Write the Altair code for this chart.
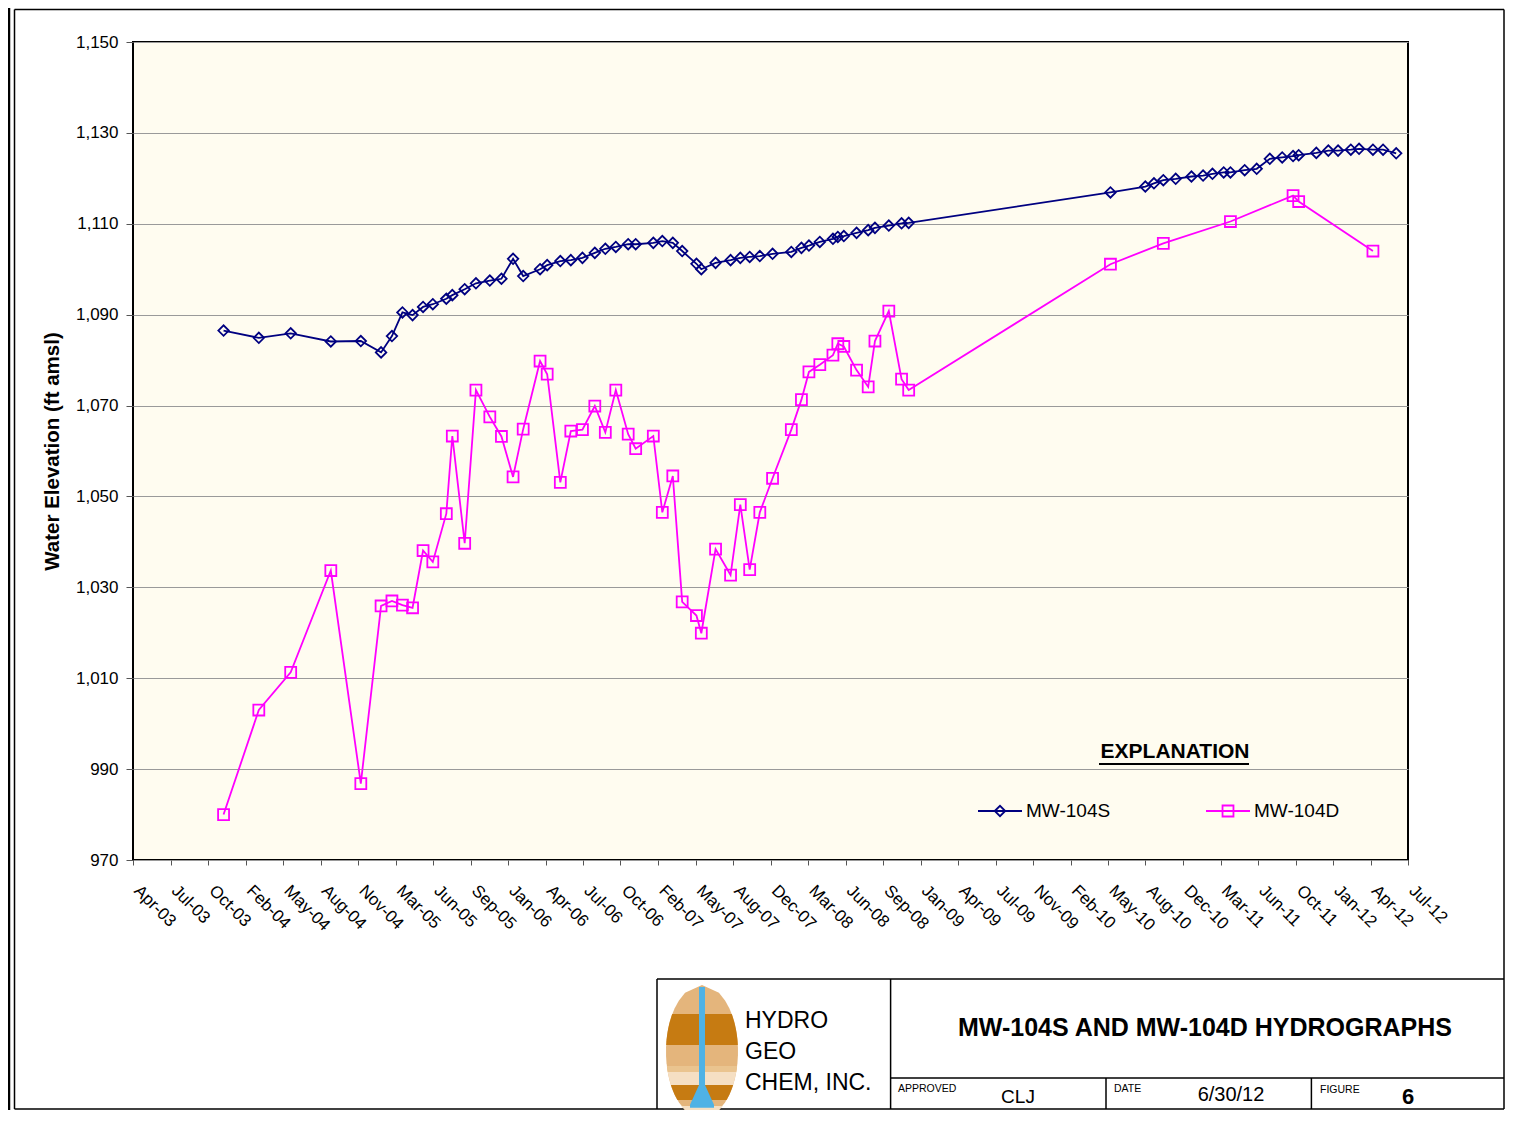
import altair as alt
import pandas as pd
import numpy as np

# ---------------- data ----------------
SERIES = ["MW-104S", "MW-104D"]
COLORS = ["#000080", "#FF00FF"]

DATES_S = ["2003-12-08", "2004-03-11", "2004-06-04", "2004-09-19", "2004-12-08", "2005-01-31",
           "2005-03-01", "2005-03-29", "2005-04-25", "2005-05-23", "2005-06-18", "2005-07-24",
           "2005-08-09", "2005-09-11", "2005-10-11", "2005-11-17", "2005-12-18", "2006-01-18",
           "2006-02-14", "2006-03-31", "2006-04-19", "2006-05-24", "2006-06-21", "2006-07-22",
           "2006-08-24", "2006-09-21", "2006-10-19", "2006-11-21", "2006-12-11", "2007-01-27",
           "2007-02-20", "2007-03-20", "2007-04-14", "2007-05-22", "2007-06-04", "2007-07-12",
           "2007-08-21", "2007-09-16", "2007-10-11", "2007-11-07", "2007-12-11", "2008-01-30",
           "2008-02-26", "2008-03-17", "2008-04-15", "2008-05-20", "2008-06-02", "2008-06-18",
           "2008-07-22", "2008-08-22", "2008-09-09", "2008-10-16", "2008-11-19", "2008-12-08",
           "2010-05-30", "2010-08-31", "2010-09-23", "2010-10-18", "2010-11-20", "2011-01-01",
           "2011-02-01", "2011-02-26", "2011-03-28", "2011-04-15", "2011-05-23", "2011-06-24",
           "2011-07-29", "2011-08-31", "2011-09-29", "2011-10-14", "2011-11-30", "2012-01-01",
           "2012-01-27", "2012-03-01", "2012-03-23", "2012-04-29", "2012-05-26", "2012-06-30"]
VALUES_S = [1086.5, 1084.9, 1085.9, 1084.1, 1084.2, 1081.7,
            1085.3, 1090.5, 1089.9, 1091.7, 1092.3, 1093.5,
            1094.3, 1095.6, 1096.9, 1097.5, 1097.9, 1102.3,
            1098.5, 1100.0, 1100.9, 1101.8, 1102.0, 1102.5,
            1103.6, 1104.5, 1104.9, 1105.5, 1105.5, 1105.8,
            1106.2, 1105.8, 1104.0, 1101.2, 1100.0, 1101.4,
            1102.0, 1102.5, 1102.7, 1102.9, 1103.4, 1103.8,
            1104.7, 1105.2, 1106.0, 1106.7, 1107.1, 1107.3,
            1108.0, 1108.6, 1109.1, 1109.6, 1110.1, 1110.2,
            1116.9, 1118.2, 1118.9, 1119.6, 1119.9, 1120.4,
            1120.6, 1121.0, 1121.3, 1121.3, 1121.8, 1122.1,
            1124.3, 1124.6, 1124.9, 1125.1, 1125.6, 1126.1,
            1126.1, 1126.3, 1126.5, 1126.3, 1126.3, 1125.5]

DATES_D = ["2003-12-08", "2004-03-11", "2004-06-04", "2004-09-19", "2004-12-08", "2005-01-31",
           "2005-03-01", "2005-03-29", "2005-04-25", "2005-05-23", "2005-06-18", "2005-07-24",
           "2005-08-09", "2005-09-11", "2005-10-11", "2005-11-17", "2005-12-18", "2006-01-18",
           "2006-02-14", "2006-03-31", "2006-04-19", "2006-05-24", "2006-06-21", "2006-07-22",
           "2006-08-24", "2006-09-21", "2006-10-19", "2006-11-21", "2006-12-11", "2007-01-27",
           "2007-02-20", "2007-03-20", "2007-04-14", "2007-05-22", "2007-06-04", "2007-07-12",
           "2007-08-21", "2007-09-16", "2007-10-11", "2007-11-07", "2007-12-11", "2008-01-30",
           "2008-02-26", "2008-03-17", "2008-04-15", "2008-05-20", "2008-06-02", "2008-06-18",
           "2008-07-22", "2008-08-22", "2008-09-09", "2008-10-16", "2008-11-19", "2008-12-08",
           "2010-05-30", "2010-10-18", "2011-04-15", "2011-09-29", "2011-10-14", "2012-04-29"]
VALUES_D = [980.0, 1003.0, 1011.3, 1033.7, 986.8, 1025.9,
            1027.0, 1026.1, 1025.5, 1038.1, 1035.6, 1046.2,
            1063.3, 1039.7, 1073.4, 1067.5, 1063.2, 1054.3,
            1064.8, 1079.8, 1076.9, 1053.1, 1064.4, 1064.7,
            1069.9, 1064.1, 1073.4, 1063.7, 1060.5, 1063.3,
            1046.5, 1054.5, 1026.8, 1023.8, 1019.9, 1038.4,
            1032.7, 1048.2, 1033.9, 1046.5, 1054.0, 1064.7,
            1071.3, 1077.4, 1079.0, 1081.1, 1083.6, 1083.0,
            1077.8, 1074.1, 1084.2, 1090.8, 1075.8, 1073.4,
            1101.1, 1105.7, 1110.5, 1116.2, 1114.9, 1104.0]

TICK_DATES = ["2003-04-10", "2003-07-19", "2003-10-27", "2004-02-04", "2004-05-14", "2004-08-22",
              "2004-11-30", "2005-03-10", "2005-06-18", "2005-09-26", "2006-01-04", "2006-04-14",
              "2006-07-23", "2006-10-31", "2007-02-08", "2007-05-19", "2007-08-27", "2007-12-05",
              "2008-03-14", "2008-06-22", "2008-09-30", "2009-01-08", "2009-04-18", "2009-07-27",
              "2009-11-04", "2010-02-12", "2010-05-23", "2010-08-31", "2010-12-09", "2011-03-19",
              "2011-06-27", "2011-10-05", "2012-01-13", "2012-04-22", "2012-07-31"]
Y_TICKS = [970, 990, 1010, 1030, 1050, 1070, 1090, 1110, 1130, 1150]

FONT = "Liberation Sans, Arial, sans-serif"

def to_dt(s):
    y, m, d = (int(p) for p in s.split("-"))
    return alt.DateTime(year=y, month=m, date=d, hours=12)

tick_dts = [to_dt(s) for s in TICK_DATES]

df = pd.concat([
    pd.DataFrame({"series": SERIES[0], "date": DATES_S, "value": VALUES_S}),
    pd.DataFrame({"series": SERIES[1], "date": DATES_D, "value": VALUES_D}),
], ignore_index=True)

W, H = 1275, 818

x_enc = alt.X("date:T",
              scale=alt.Scale(domain=[tick_dts[0], tick_dts[-1]], nice=False),
              axis=alt.Axis(values=tick_dts, format="%b-%y", labelAngle=45, labelAlign="left",
                            labelBaseline="top", labelPadding=17, labelOffset=9, tickSize=5,
                            tickColor="#555555", grid=False, domain=False, title=None,
                            labelFontSize=17, labelColor="black", labelFont=FONT,
                            labelOverlap=False, labelFlush=False, labelBound=False))
y_enc = alt.Y("value:Q",
              scale=alt.Scale(domain=[970, 1150], nice=False, zero=False),
              axis=alt.Axis(values=Y_TICKS, format=",d", tickSize=7, tickColor="#555555",
                            labelPadding=8, labelFontSize=17, labelColor="black", labelFont=FONT,
                            grid=True, gridColor="#9A9A9A", gridWidth=1, domain=False,
                            title="Water Elevation (ft amsl)", titleFontSize=20.5,
                            titleFontWeight="bold", titleFont=FONT, titleColor="black",
                            titleAngle=270, titleX=-81, titleY=H / 2, titleAlign="center",
                            titleBaseline="middle"))
color_enc = alt.Color("series:N", scale=alt.Scale(domain=SERIES, range=COLORS), legend=None)

base = alt.Chart(df)
lines = base.mark_line(strokeWidth=1.8).encode(x=x_enc, y=y_enc, color=color_enc, detail="series:N")
points = base.mark_point(filled=False, strokeWidth=1.8, opacity=1).encode(
    x=x_enc, y=y_enc, color=color_enc,
    shape=alt.Shape("series:N", scale=alt.Scale(domain=SERIES, range=["diamond", "square"]), legend=None),
    size=alt.Size("series:N", scale=alt.Scale(domain=SERIES, range=[110, 120]), legend=None))

# ---------------- decorations (pixel positions relative to plot origin) ----------------
one = pd.DataFrame({"k": [0]})

def rule(x1, y1, x2, y2, color="black", width=1.5):
    return alt.Chart(one).mark_rule(color=color, strokeWidth=width).encode(
        x=alt.value(x1), y=alt.value(y1), x2=alt.value(x2), y2=alt.value(y2))

def txt(s, x, y, size, bold=False, align="left", color="black"):
    return alt.Chart(one).mark_text(text=s, align=align, baseline="middle", fontSize=size,
                                    fontWeight="bold" if bold else "normal", font=FONT,
                                    color=color).encode(x=alt.value(x), y=alt.value(y))

def sym(shape, x, y, size, color, filled=False, sw=1.8):
    return alt.Chart(one).mark_point(shape=shape, size=size, filled=filled, color=color,
                                     strokeWidth=sw, opacity=1).encode(x=alt.value(x), y=alt.value(y))

deco = []
# page frame
L, T, R, B = -118.5, -32.5, 1371, 1067
deco += [rule(-124, -34, -124, 1070, width=2.5),
         rule(L, T, R, T), rule(L, T, L, B), rule(R, T, R, B), rule(L, B, R, B)]
# legend
deco += [txt("EXPLANATION", 1042, 710, 21, bold=True, align="center"),
         rule(966, 722, 1116, 722, width=2),
         rule(845, 769, 889, 769, color=COLORS[0], width=1.8),
         sym("diamond", 867, 769, 110, COLORS[0]),
         txt("MW-104S", 893, 769, 19),
         rule(1073, 769, 1117, 769, color=COLORS[1], width=1.8),
         sym("square", 1095, 769, 120, COLORS[1]),
         txt("MW-104D", 1121, 769, 19)]
# title block
deco += [rule(524, 937, R, 937), rule(524, 937, 524, B), rule(757.6, 937, 757.6, B),
         rule(757.6, 1036, R, 1036), rule(973, 1036, 973, B), rule(1178.4, 1036, 1178.4, B),
         txt("MW-104S AND MW-104D HYDROGRAPHS", 1072, 986, 25, bold=True, align="center"),
         txt("HYDRO", 612, 979, 23), txt("GEO", 612, 1010, 23), txt("CHEM, INC.", 612, 1041, 23),
         txt("APPROVED", 765, 1047, 10.5), txt("CLJ", 885, 1055, 19, align="center"),
         txt("DATE", 981, 1047, 10.5), txt("6/30/12", 1098, 1053, 20, align="center"),
         txt("FIGURE", 1187, 1048, 10.5), txt("6", 1275, 1055, 22, bold=True, align="center")]

# logo: striped ellipse with blue probe
CX, CY, A, BB = 702 - 133, 1051.5 - 42, 36.0, 66.5
RR = BB

def stripe_path(y1, y2):
    ys = np.linspace(y1, y2, 18)
    half = A * np.sqrt(np.clip(1 - ((ys - CY) / BB) ** 2, 0, 1))
    pts = [(-h, y - CY) for h, y in zip(half, ys)] + [(h, y - CY) for h, y in zip(half[::-1], ys[::-1])]
    return "M" + " L".join(f"{px / RR:.4f},{py / RR:.4f}" for px, py in pts) + " Z"

STRIPES = [(CY - BB, CY + BB, "#E4B57C"),
           (972, 1003, "#C67B12"),
           (1024, 1030, "#EAC48F"),
           (1030, 1043, "#F5DFC3"),
           (1043, 1058, "#C67B12"),
           (1064, 1068, "#F5DFC3"),
           (1068, CY + BB, "#C67B12")]
for y1, y2, c in STRIPES:
    deco.append(alt.Chart(one).mark_point(shape=stripe_path(y1, y2), size=(2 * RR) ** 2, filled=True,
                                          color=c, strokeWidth=0, opacity=1)
                .encode(x=alt.value(CX), y=alt.value(CY)))
deco.append(alt.Chart(one).mark_rect(color="#4FB2E5").encode(
    x=alt.value(CX - 3), x2=alt.value(CX + 3), y=alt.value(945), y2=alt.value(1046)))
paddle = "M -0.05,0 L 0.05,0 L 0.2,0.33 L 0.2,0.38 L -0.2,0.38 L -0.2,0.33 Z"
deco.append(alt.Chart(one).mark_point(shape=paddle, size=120 ** 2, filled=True, color="#4FB2E5",
                                      strokeWidth=0, opacity=1)
            .encode(x=alt.value(CX), y=alt.value(1043)))

chart = alt.layer(lines, points, *deco).properties(
    width=W, height=H,
    autosize=alt.AutoSizeParams(type="none"),
    padding={"left": 125, "top": 34, "right": 98, "bottom": 250},
    background="white",
).configure_view(fill="#FFFCF0", stroke="black", strokeWidth=2)

chart.save("out.html", embed_options={"renderer": "svg", "actions": False})
